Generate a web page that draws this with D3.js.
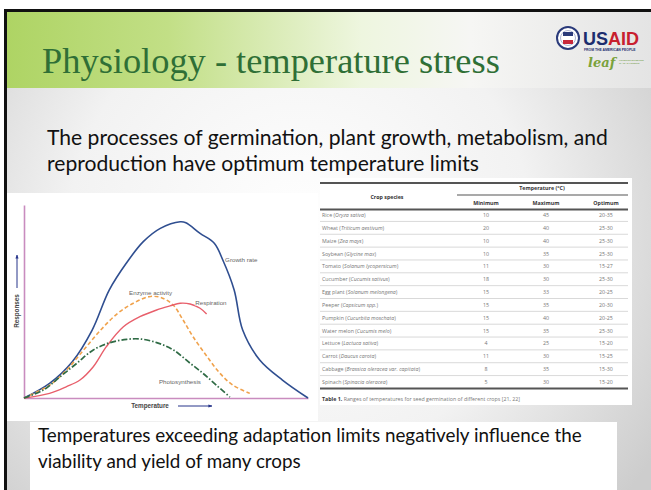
<!DOCTYPE html>
<html>
<head>
<meta charset="utf-8">
<script src="https://d3js.org/d3.v7.min.js"></script>
<style>
  body { margin: 0; background: #fff; overflow: hidden; }
  svg { display: block; }
</style>
</head>
<body>
<div id="slide"></div>
<script>
var title = "Physiology - temperature stress";
var introLines = ["The processes of germination, plant growth, metabolism, and",
                  "reproduction have optimum temperature limits"];
var noteLines = ["Temperatures exceeding adaptation limits negatively influence the",
                 "viability and yield of many crops"];

// response curves, temperature and response on a relative 0-100 scale
var growthT = [0, 9, 17, 24, 30, 36, 42, 48, 55, 57, 62, 67, 70, 74, 77, 83, 91, 100];
var growthR = [0, 7.6, 18.8, 35.2, 55.9, 69.8, 81, 87.9, 91.3, 90.8, 85.3, 80.2, 71.5, 56, 35.2, 19.7, 9.3, 0];
var enzymeT = [0, 9, 15, 21, 27, 33, 38.5, 44, 48, 52.5, 56, 59.5, 64.5, 69, 73.5, 79.5];
var enzymeR = [0, 6.7, 14.5, 24.9, 35.2, 43.9, 49.1, 52.5, 52.2, 48.2, 40.4, 31.8, 21.4, 12.8, 6.7, 2.4];
var respT = [0, 9, 15, 19.7, 24.4, 29, 35, 40.8, 46.7, 51.4, 55, 58.5, 62, 64.3];
var respR = [0, 2.4, 5.9, 9.3, 16.2, 26.6, 36.9, 42.1, 45.6, 47.7, 49.1, 48.7, 46.5, 43.5];
var photoT = [0, 6.8, 12.7, 18.6, 24.4, 30.3, 36.2, 40.8, 46.7, 52.6, 58.5, 63, 67.7, 72.5];
var photoR = [0, 4.1, 11, 18, 24.9, 28.7, 30.4, 30.6, 28.7, 24.9, 18, 12.8, 6.7, 0.5];
var seriesNames = ["Growth rate", "Enzyme activity", "Respiration", "Photosynthesis"];

// table 1
var crops = ["Rice (Oryza sativa)", "Wheat (Triticum aestivum)", "Maize (Zea mays)",
  "Soybean (Glycine max)", "Tomato (Solanum lycopersicum)", "Cucumber (Cucumis sativus)",
  "Egg plant (Solanum melongena)", "Peeper (Capsicum spp.)", "Pumpkin (Cucurbita moschata)",
  "Water melon (Cucumis melo)", "Lettuce (Lactuca sativa)", "Carrot (Daucus carota)",
  "Cabbage (Brassica oleracea var. capitata)", "Spinach (Spinacia oleracea)"];
var minimum = [10, 20, 10, 10, 11, 18, 15, 15, 15, 15, 4, 11, 8, 5];
var maximum = [45, 40, 40, 35, 30, 30, 33, 35, 40, 35, 25, 30, 35, 30];
var optimum = ["20-35", "25-30", "25-30", "25-30", "15-27", "25-30", "20-25", "20-30",
  "20-25", "25-30", "15-20", "15-25", "15-30", "15-20"];
var columns = ["Minimum", "Maximum", "Optimum"];

var W = 651, H = 490;

var svg = d3.select("#slide").append("svg")
    .attr("width", W)
    .attr("height", H);

var defs = svg.append("defs");
var bg = defs.append("radialGradient").attr("id", "bg")
    .attr("gradientUnits", "userSpaceOnUse")
    .attr("cx", 300).attr("cy", 230).attr("r", 420);
bg.append("stop").attr("offset", "0%").attr("stop-color", "#ffffff");
bg.append("stop").attr("offset", "55%").attr("stop-color", "#f2f2f2");
bg.append("stop").attr("offset", "100%").attr("stop-color", "#cdcdcd");

var band = defs.append("linearGradient").attr("id", "band");
band.append("stop").attr("offset", "0%").attr("stop-color", "#aed464");
band.append("stop").attr("offset", "25%").attr("stop-color", "#c2df86");
band.append("stop").attr("offset", "55%").attr("stop-color", "#eef6df");
band.append("stop").attr("offset", "72%").attr("stop-color", "#f6f6f4");
band.append("stop").attr("offset", "100%").attr("stop-color", "#e4e4e4");

// slide frame
svg.append("rect").attr("x", 4).attr("y", 9).attr("width", W - 4).attr("height", H - 9)
    .attr("fill", "url(#bg)");
svg.append("rect").attr("x", 7).attr("y", 12).attr("width", W - 7).attr("height", 76)
    .attr("fill", "url(#band)");
svg.append("rect").attr("x", 4).attr("y", 9).attr("width", W - 4).attr("height", 3).attr("fill", "#111");
svg.append("rect").attr("x", 4).attr("y", 9).attr("width", 3).attr("height", H - 9).attr("fill", "#111");

// font size that makes a text span the given width
function fitLines(sel, width) {
  var w = sel.node().getComputedTextLength();
  var size = parseFloat(sel.attr("font-size"));
  return size * width / w;
}

var titleText = svg.append("text")
    .attr("x", 42).attr("y", 73)
    .attr("font-family", "'Liberation Serif', serif")
    .attr("font-size", 30)
    .attr("fill", "#2f6f36")
    .text(title);
titleText.attr("font-size", fitLines(titleText, 458));

// logo
var logo = svg.append("g");
logo.append("circle").attr("cx", 568).attr("cy", 38).attr("r", 11)
    .attr("fill", "#fff").attr("stroke", "#2a3a7a").attr("stroke-width", 2);
logo.append("circle").attr("cx", 568).attr("cy", 38).attr("r", 7.5)
    .attr("fill", "none").attr("stroke", "#9aa3c8").attr("stroke-width", 0.8);
logo.append("rect").attr("x", 563).attr("y", 32).attr("width", 10).attr("height", 4).attr("fill", "#2a3a7a");
logo.append("rect").attr("x", 563).attr("y", 40).attr("width", 10).attr("height", 4).attr("fill", "#c8283a");
var usaid = logo.append("text").attr("x", 583).attr("y", 45)
    .attr("font-family", "'Liberation Sans', Arial, sans-serif")
    .attr("font-weight", "bold").attr("font-size", 18);
usaid.append("tspan").attr("fill", "#1c2d6e").text("US");
usaid.append("tspan").attr("fill", "#c8202e").text("AID");
logo.append("text").attr("x", 584).attr("y", 51)
    .attr("font-family", "'Liberation Sans', Arial, sans-serif")
    .attr("font-weight", "bold").attr("font-size", 3.4).attr("fill", "#1c2d6e")
    .text("FROM THE AMERICAN PEOPLE");
logo.append("text").attr("x", 588).attr("y", 67)
    .attr("font-family", "'DejaVu Serif', serif").attr("font-style", "italic")
    .attr("font-weight", "bold").attr("font-size", 13).attr("fill", "#7aa23a")
    .text("leaf");
logo.append("text").attr("x", 619).attr("y", 61)
    .attr("font-family", "'Liberation Sans', Arial, sans-serif")
    .attr("font-size", 2.2).attr("fill", "#6b9a3a").text("LOWERING EMISSIONS");
logo.append("text").attr("x", 619).attr("y", 64)
    .attr("font-family", "'Liberation Sans', Arial, sans-serif")
    .attr("font-size", 2.2).attr("fill", "#6b9a3a").text("IN ASIA'S FORESTS");

// intro text
var intro = svg.append("g")
    .attr("font-family", "Lato, 'Open Sans', sans-serif")
    .attr("fill", "#111");
var introText = intro.selectAll("text").data(introLines).enter().append("text")
    .attr("x", 47)
    .attr("y", function(d, i) { return 145 + i * 25.5; })
    .attr("font-size", 19)
    .text(function(d) { return d; });
var introSize = fitLines(d3.select(introText.nodes()[0]), 561);
introText.attr("font-size", introSize);

// figure panel
svg.append("rect").attr("x", 7).attr("y", 193).attr("width", 311).attr("height", 228).attr("fill", "#fff");
svg.append("rect").attr("x", 320).attr("y", 178).attr("width", 312).attr("height", 227).attr("fill", "#fff");

var x = d3.scaleLinear().domain([0, 100]).range([24, 308]);
var y = d3.scaleLinear().domain([0, 100]).range([398, 205]);

var chart = svg.append("g");
chart.append("g")
    .attr("transform", "translate(0,398)")
    .call(d3.axisBottom(x).ticks(0).tickSizeOuter(0))
    .call(function(g) { g.select(".domain").attr("stroke", "#c98cbf").attr("stroke-width", 1.6); });
chart.append("g")
    .attr("transform", "translate(24,0)")
    .call(d3.axisLeft(y).ticks(0).tickSizeOuter(0))
    .call(function(g) { g.select(".domain").attr("stroke", "#c98cbf").attr("stroke-width", 1.6); });

var seriesT = [growthT, enzymeT, respT, photoT];
var seriesR = [growthR, enzymeR, respR, photoR];
var colors = ["#2f4e90", "#f0a24c", "#e85f6b", "#2f6b45"];
var dashes = [null, "4,2.5", null, "6,2,1.5,2"];
var widths = [1.6, 1.6, 1.4, 1.7];

var line = d3.line()
    .x(function(d) { return x(d[0]); })
    .y(function(d) { return y(d[1]); })
    .curve(d3.curveCatmullRom);

var curves = seriesNames.map(function(name, i) {
  return seriesT[i].map(function(t, j) { return [t, seriesR[i][j]]; });
});

chart.selectAll(".curve").data(curves).enter().append("path")
    .attr("class", "curve")
    .attr("d", line)
    .attr("fill", "none")
    .attr("stroke", function(d, i) { return colors[i]; })
    .attr("stroke-width", function(d, i) { return widths[i]; })
    .attr("stroke-dasharray", function(d, i) { return dashes[i]; });

// curve labels (left x, baseline y in chart units)
var labelPos = [[70.8, 70.5], [37, 53.5], [60.3, 48.2], [47.5, 7.5]];
chart.selectAll(".clabel").data(seriesNames).enter().append("text")
    .attr("class", "clabel")
    .attr("x", function(d, i) { return x(labelPos[i][0]); })
    .attr("y", function(d, i) { return y(labelPos[i][1]); })
    .attr("font-family", "'Liberation Sans', Arial, sans-serif")
    .attr("font-size", 6.2)
    .attr("fill", "#666")
    .attr("stroke", "#fff").attr("stroke-width", 1.2).attr("paint-order", "stroke")
    .text(function(d) { return d; });

// axis titles with arrows
defs.append("marker").attr("id", "arrow")
    .attr("viewBox", "0 0 10 10").attr("refX", 9).attr("refY", 5)
    .attr("markerWidth", 4).attr("markerHeight", 4).attr("orient", "auto")
  .append("path").attr("d", "M0,1L10,5L0,9Z").attr("fill", "#26348a");

chart.append("text")
    .attr("transform", "translate(19,311) rotate(-90)")
    .attr("text-anchor", "middle")
    .attr("font-family", "'Liberation Sans', Arial, sans-serif")
    .attr("font-weight", "bold").attr("font-size", 6.3).attr("fill", "#444")
    .text("Responses");
chart.append("line").attr("x1", 17).attr("y1", 288).attr("x2", 17).attr("y2", 255)
    .attr("stroke", "#26348a").attr("stroke-width", 1).attr("marker-end", "url(#arrow)");
chart.append("text")
    .attr("x", 150).attr("y", 408)
    .attr("text-anchor", "middle")
    .attr("font-family", "'Liberation Sans', Arial, sans-serif")
    .attr("font-weight", "bold").attr("font-size", 6.3).attr("fill", "#444")
    .text("Temperature");
chart.append("line").attr("x1", 178).attr("y1", 406).attr("x2", 212).attr("y2", 406)
    .attr("stroke", "#26348a").attr("stroke-width", 1).attr("marker-end", "url(#arrow)");

// table
var row = d3.scalePoint().domain(crops).range([215, 382]);
var col = d3.scalePoint().domain(columns).range([486, 606]);
var step = row.step();
var tbl = svg.append("g")
    .attr("font-family", "'Open Sans', 'Liberation Sans', sans-serif")
    .attr("font-size", 5.3);

tbl.selectAll(".sep").data(crops.slice(1)).enter().append("line")
    .attr("x1", 320).attr("x2", 628)
    .attr("y1", function(d) { return row(d) - step / 2; })
    .attr("y2", function(d) { return row(d) - step / 2; })
    .attr("stroke", "#c8c8c8").attr("stroke-width", 0.7);
[183, 209.5, 388.5].forEach(function(yy) {
  tbl.append("line").attr("x1", 320).attr("x2", 628).attr("y1", yy).attr("y2", yy)
      .attr("stroke", "#555").attr("stroke-width", 1.8);
});
tbl.append("line").attr("x1", 457).attr("x2", 628).attr("y1", 195).attr("y2", 195)
    .attr("stroke", "#555").attr("stroke-width", 1.2);

tbl.append("text").attr("x", 387).attr("y", 199).attr("text-anchor", "middle")
    .attr("font-weight", "bold").attr("fill", "#333").text("Crop species");
tbl.append("text").attr("x", 542).attr("y", 190).attr("text-anchor", "middle")
    .attr("font-weight", "bold").attr("fill", "#333").text("Temperature (\u00b0C)");
tbl.selectAll(".colh").data(columns).enter().append("text")
    .attr("x", function(d) { return col(d); }).attr("y", 205)
    .attr("text-anchor", "middle").attr("font-weight", "bold").attr("fill", "#333")
    .text(function(d) { return d; });

var names = tbl.selectAll(".crop").data(crops).enter().append("text")
    .attr("x", 322).attr("y", function(d) { return row(d) + 2; })
    .attr("fill", "#777");
names.append("tspan").text(function(d) { return d.split(" (")[0] + " ("; });
names.append("tspan").attr("font-style", "italic")
    .text(function(d) { return d.split(" (")[1].replace(")", ""); });
names.append("tspan").text(")");

var cells = [minimum, maximum, optimum];
columns.forEach(function(c, ci) {
  tbl.selectAll(".c" + ci).data(cells[ci]).enter().append("text")
      .attr("x", col(c))
      .attr("y", function(d, i) { return row(crops[i]) + 2; })
      .attr("text-anchor", "middle").attr("fill", "#777")
      .text(function(d) { return d; });
});

var cap = tbl.append("text").attr("x", 322).attr("y", 401).attr("fill", "#777");
cap.append("tspan").attr("font-weight", "bold").attr("fill", "#333").text("Table 1.");
cap.append("tspan").text(" Ranges of temperatures for seed germination of different crops [21, 22]");

// bottom note
svg.append("rect").attr("x", 30).attr("y", 422).attr("width", 587).attr("height", 68).attr("fill", "#fff");
var note = svg.append("g")
    .attr("font-family", "Lato, 'Open Sans', sans-serif")
    .attr("fill", "#111");
var noteText = note.selectAll("text").data(noteLines).enter().append("text")
    .attr("x", 38)
    .attr("y", function(d, i) { return 442 + i * 26; })
    .attr("font-size", 17)
    .text(function(d) { return d; });
noteText.attr("font-size", fitLines(d3.select(noteText.nodes()[0]), 544));
</script>
</body>
</html>
